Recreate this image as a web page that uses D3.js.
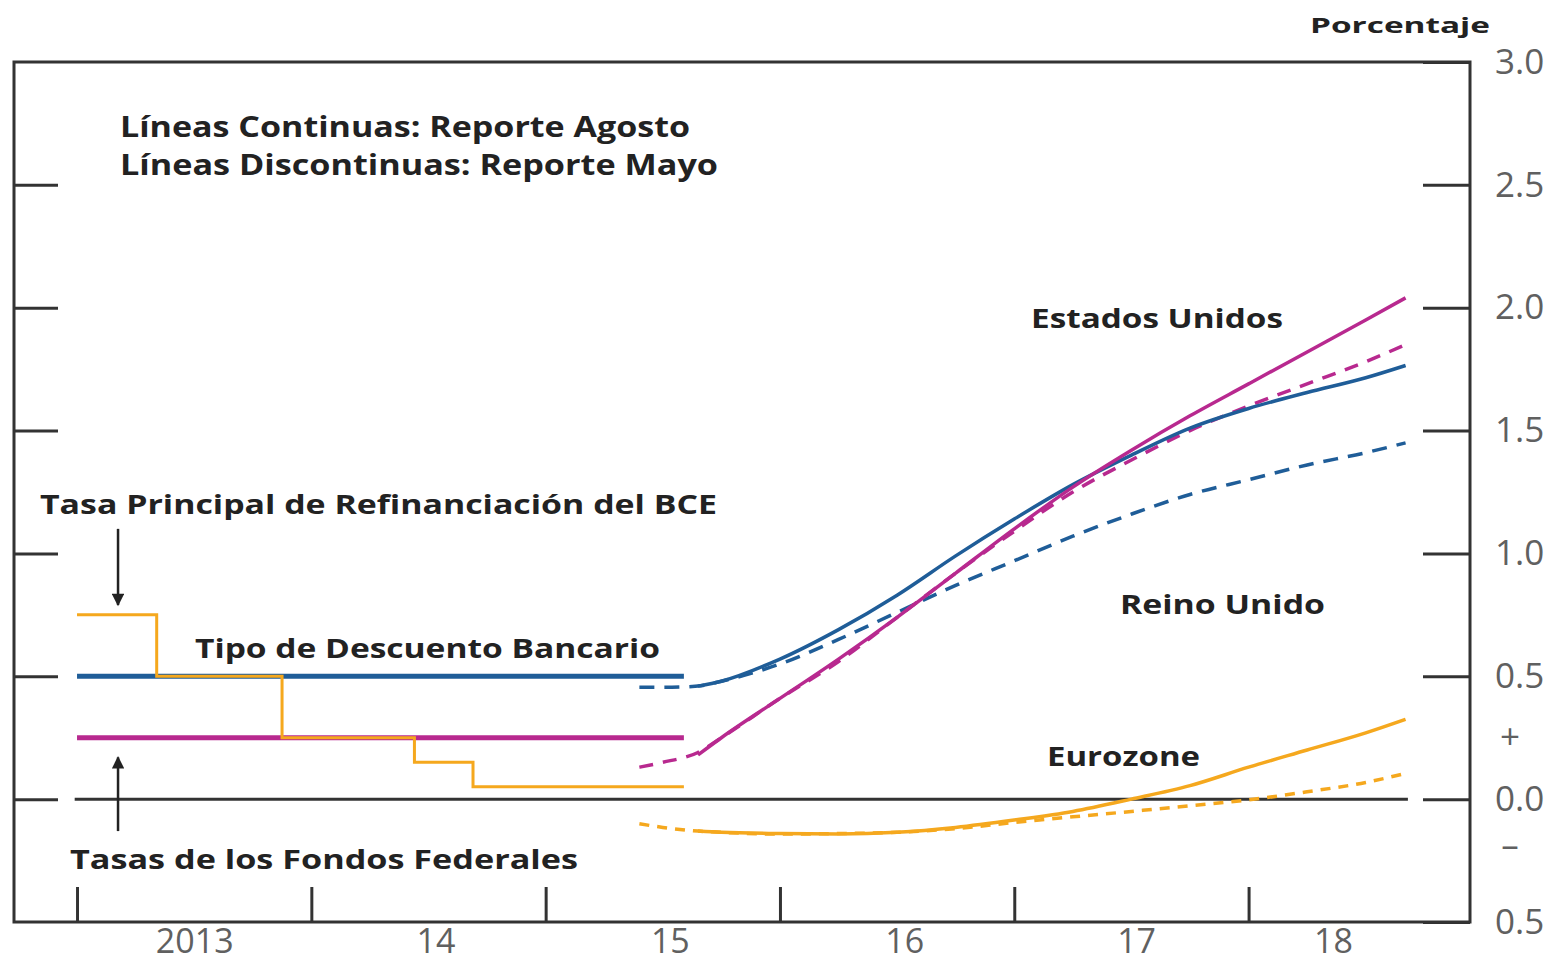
<!DOCTYPE html>
<html>
<head>
<meta charset="utf-8">
<script src="https://cdn.jsdelivr.net/npm/d3@7"></script>
<style>
  body { margin: 0; background: #fff; }
  svg { display: block; }
  .lbl { font-family: "Open Sans", sans-serif; font-weight: 700; fill: #222; }
  .num text { font-family: "Open Sans", sans-serif; font-size: 35px; fill: #606060; }
  .num.years text { font-size: 34px; }
</style>
</head>
<body>
<svg id="chart"></svg>
<script>
// history (decimal years)
const ecbDates = [2013.0, 2013.34, 2013.875, 2014.44, 2014.69, 2015.59];
const ecbRates = [0.75, 0.5, 0.25, 0.15, 0.05, 0.05];
const histDates = [2013.0, 2015.59];
const ukBank = [0.5, 0.5];
const usFed = [0.25, 0.25];

// forward curves, August report (solid)
const augDates = [2015.65, 2015.75, 2016.0, 2016.25, 2016.5, 2016.75, 2017.0, 2017.25, 2017.5, 2017.75, 2018.0, 2018.25, 2018.5, 2018.67];
const ukAug = [0.46, 0.48, 0.57, 0.69, 0.83, 0.99, 1.14, 1.28, 1.40, 1.51, 1.59, 1.655, 1.715, 1.765];
const usAug = [0.18, 0.25, 0.41, 0.57, 0.74, 0.92, 1.10, 1.27, 1.42, 1.56, 1.69, 1.82, 1.95, 2.04];
const euAug = [-0.13, -0.135, -0.14, -0.142, -0.135, -0.115, -0.085, -0.05, 0.0, 0.055, 0.13, 0.20, 0.27, 0.325];

// forward curves, May report (dashed)
const mayDates = [2015.4, 2015.5, 2015.65, 2015.75, 2016.0, 2016.25, 2016.5, 2016.75, 2017.0, 2017.25, 2017.5, 2017.75, 2018.0, 2018.25, 2018.5, 2018.67];
const ukMay = [0.455, 0.455, 0.46, 0.48, 0.55, 0.65, 0.76, 0.87, 0.97, 1.07, 1.16, 1.24, 1.30, 1.36, 1.41, 1.45];
const usMay = [0.13, 0.15, 0.19, 0.25, 0.41, 0.56, 0.74, 0.92, 1.09, 1.25, 1.38, 1.50, 1.60, 1.69, 1.78, 1.85];
const euMay = [-0.10, -0.115, -0.13, -0.135, -0.142, -0.14, -0.135, -0.12, -0.095, -0.072, -0.05, -0.027, -0.003, 0.03, 0.068, 0.105];

const yearTicks = [2013, 2014, 2015, 2016, 2017, 2018];
const yearLabels = ["2013", "14", "15", "16", "17", "18"];
const yearLabelPos = [2013.5, 2014.53, 2015.53, 2016.53, 2017.52, 2018.36];
const yTicks = [3.0, 2.5, 2.0, 1.5, 1.0, 0.5, 0.0, -0.5];
const zeroSpan = [2012.99, 2018.68];

const blue = "#1f5d98", magenta = "#b8298f", orange = "#f5a81e";

const margin = {top: 62, right: 92, bottom: 44, left: 14},
  width = 1562 - margin.left - margin.right,
  height = 966 - margin.top - margin.bottom;

const svg0 = d3.select("#chart")
  .attr("width", 1562)
  .attr("height", 966);

const svg = svg0.append("g")
  .attr("transform", "translate(" + margin.left + "," + margin.top + ")");

const x = d3.scaleLinear().domain([2012.731, 2018.945]).range([0, width]);
const y = d3.scaleLinear().domain([-0.5, 3.0]).range([height, 0]);

// ticks
svg.append("g")
  .call(d3.axisLeft(y).tickValues([0, 0.5, 1, 1.5, 2, 2.5]).tickSize(-44).tickFormat(""))
  .call(g => g.select(".domain").remove())
  .selectAll("line").attr("stroke", "#333").attr("stroke-width", 3);

svg.append("g")
  .attr("class", "num")
  .attr("transform", "translate(" + width + ",0)")
  .call(d3.axisRight(y).tickValues(yTicks).tickSize(-47).tickPadding(25).tickFormat(d => Math.abs(d).toFixed(1)))
  .call(g => g.select(".domain").remove())
  .call(g => g.selectAll("line").attr("stroke", "#333").attr("stroke-width", 3))
  .call(g => g.selectAll("text").attr("font-size", null).attr("font-family", null).attr("fill", null));

svg.append("g")
  .attr("transform", "translate(0," + height + ")")
  .call(d3.axisBottom(x).tickValues(yearTicks).tickSize(-35).tickFormat(""))
  .call(g => g.select(".domain").remove())
  .selectAll("line").attr("stroke", "#333").attr("stroke-width", 3);

svg.append("g")
  .attr("class", "num years")
  .attr("transform", "translate(0," + height + ")")
  .call(d3.axisBottom(x).tickValues(yearLabelPos).tickSize(0).tickPadding(7).tickFormat((d, i) => yearLabels[i]))
  .call(g => g.select(".domain").remove())
  .call(g => g.selectAll("text").attr("font-size", null).attr("font-family", null).attr("fill", null));

// sign marks beside the axis
svg.append("g").attr("class", "num")
  .selectAll("text")
  .data([["+", 0.25], ["\u2013", -0.19]])
  .join("text")
  .attr("x", width + 40)
  .attr("y", d => y(d[1]))
  .attr("dy", "0.32em")
  .attr("text-anchor", "middle")
  .text(d => d[0]);

// frame
svg.append("rect")
  .attr("width", width)
  .attr("height", height)
  .attr("fill", "none")
  .attr("stroke", "#333")
  .attr("stroke-width", 3);

// zero line
svg.append("line")
  .attr("x1", x(zeroSpan[0])).attr("x2", x(zeroSpan[1]))
  .attr("y1", y(0)).attr("y2", y(0))
  .attr("stroke", "#333").attr("stroke-width", 3);

const line = d3.line()
  .x(d => x(d[0]))
  .y(d => y(d[1]))
  .curve(d3.curveMonotoneX);

const step = d3.line()
  .x(d => x(d[0]))
  .y(d => y(d[1]))
  .curve(d3.curveStepAfter);

const zip = (a, b) => a.map((v, i) => [v, b[i]]);

const series = [
  {pts: zip(mayDates, ukMay), color: blue, w: 3.5, dash: "15,10"},
  {pts: zip(mayDates, euMay), color: orange, w: 3.5, dash: "10,8"},
  {pts: zip(mayDates, usMay), color: magenta, w: 3.5, dash: "14,10"},
  {pts: zip(augDates, euAug), color: orange, w: 3.5},
  {pts: zip(augDates, ukAug), color: blue, w: 3.5},
  {pts: zip(augDates, usAug), color: magenta, w: 3.5}
];

svg.selectAll(".fwd")
  .data(series)
  .join("path")
  .attr("class", "fwd")
  .attr("fill", "none")
  .attr("stroke", d => d.color)
  .attr("stroke-width", d => d.w)
  .attr("stroke-dasharray", d => d.dash || null)
  .attr("d", d => line(d.pts));

// history lines
svg.append("path").datum(zip(histDates, ukBank))
  .attr("fill", "none").attr("stroke", blue).attr("stroke-width", 5).attr("d", step);
svg.append("path").datum(zip(histDates, usFed))
  .attr("fill", "none").attr("stroke", magenta).attr("stroke-width", 5).attr("d", step);
svg.append("path").datum(zip(ecbDates, ecbRates))
  .attr("fill", "none").attr("stroke", orange).attr("stroke-width", 3).attr("d", step);

// arrows
svg0.append("defs").append("marker")
  .attr("id", "head")
  .attr("viewBox", "0 0 10 10")
  .attr("refX", 9).attr("refY", 5)
  .attr("markerWidth", 6).attr("markerHeight", 5)
  .attr("markerUnits", "strokeWidth")
  .attr("orient", "auto")
  .append("path").attr("d", "M0,0L10,5L0,10Z").attr("fill", "#222");

const arrows = [[1.10, 0.79], [-0.13, 0.17]];
svg.selectAll(".arrow")
  .data(arrows)
  .join("line")
  .attr("class", "arrow")
  .attr("x1", x(2013.175)).attr("x2", x(2013.175))
  .attr("y1", d => y(d[0])).attr("y2", d => y(d[1]))
  .attr("stroke", "#222").attr("stroke-width", 2.5)
  .attr("marker-end", "url(#head)");

// labels
const labels = [
  ["L\u00edneas Continuas: Reporte Agosto", 120, 137, 28, 570],
  ["L\u00edneas Discontinuas: Reporte Mayo", 120, 175, 28, 598],
  ["Porcentaje", 1310, 33, 22, 180],
  ["Tasa Principal de Refinanciaci\u00f3n del BCE", 40, 514, 27, 677],
  ["Tipo de Descuento Bancario", 195, 658, 27, 465],
  ["Tasas de los Fondos Federales", 70, 869, 27, 508],
  ["Estados Unidos", 1031, 328, 27, 252],
  ["Reino Unido", 1120, 614, 27, 205],
  ["Eurozone", 1047, 766, 27, 153]
];

svg0.selectAll(".lbl")
  .data(labels)
  .join("text")
  .attr("class", "lbl")
  .attr("x", d => d[1])
  .attr("y", d => d[2])
  .attr("font-size", d => d[3] + "px")
  .attr("textLength", d => d[4])
  .attr("lengthAdjust", "spacingAndGlyphs")
  .text(d => d[0]);
</script>
</body>
</html>
